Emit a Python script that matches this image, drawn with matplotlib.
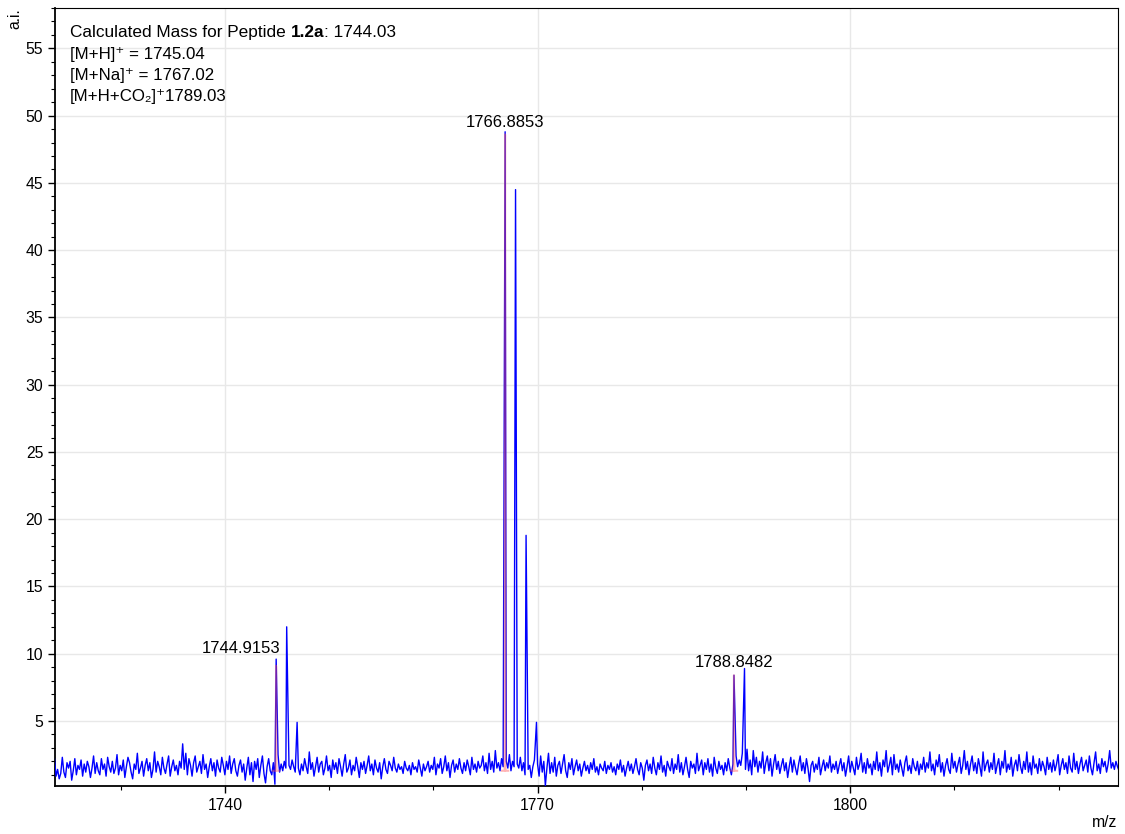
import numpy as np
import matplotlib.pyplot as plt
from matplotlib.ticker import MultipleLocator

plt.rcParams['font.family'] = ['Liberation Sans', 'DejaVu Sans']

# raw spectrum baseline, sampled every 0.15 m/z from 1723.5
noise_start = 1723.5
noise_step = 0.15
noise = [
    2.6, 2.2, 0.9, 1.4, 0.7, 1.1, 2.3, 1.2, 0.8, 1.9, 1.5, 2.0, 0.6, 1.3, 2.2, 1.0, 1.7, 1.4, 2.1, 0.9,
    1.8, 1.2, 2.0, 1.6, 0.8, 1.5, 2.4, 1.1, 1.9, 1.3, 1.0, 2.2, 1.4, 1.8, 0.9, 2.3, 1.6, 1.2, 2.0, 1.1,
    1.5, 2.5, 1.0, 1.7, 1.3, 2.1, 0.8, 1.6, 2.3, 1.9, 1.2, 0.7, 1.8, 1.4, 2.6, 1.1, 1.5, 2.0, 0.9, 1.7,
    2.2, 1.3, 1.9, 0.8, 1.4, 2.7, 1.2, 2.0, 1.6, 1.0, 2.3, 1.5, 1.1, 1.8, 2.4, 0.9, 1.6, 2.1, 1.3, 1.7,
    1.0, 2.0, 1.5, 3.3, 1.4, 2.6, 1.0, 2.2, 1.7, 0.9, 1.9, 2.4, 1.2, 1.6, 2.0, 1.1, 2.5, 1.4, 1.8, 0.8,
    1.6, 2.2, 1.3, 1.9, 0.9, 2.1, 1.5, 1.2, 2.3, 1.7, 1.0, 2.0, 1.4, 2.4, 1.1, 1.8, 2.2, 1.3, 0.9, 1.7,
    2.1, 1.2, 1.8, 0.6, 1.5, 2.3, 1.0, 1.9, 0.5, 2.0, 1.4, 2.2, 0.8, 1.7, 2.4, 1.1, 0.4, 1.6, 2.2, 1.3,
    1.0, 1.9, 0.3, 1.4, 2.5, 1.2, 1.8, 1.3, 2.0, 1.5, 1.1, 1.7, 1.4, 2.1, 1.6, 1.2, 2.4, 1.5, 1.0, 1.8,
    1.3, 2.2, 1.6, 1.1, 2.7, 1.4, 1.9, 0.9, 1.6, 2.3, 1.2, 1.8, 2.0, 1.0, 1.5, 2.4, 1.3, 1.7, 0.8, 2.1,
    1.4, 1.9, 1.1, 2.2, 1.6, 0.9, 1.8, 2.5, 1.2, 1.5, 2.1, 1.0, 1.7, 1.3, 2.3, 1.6, 0.8, 1.9, 1.4, 2.0,
    1.1, 1.7, 2.4, 1.3, 1.8, 1.0, 2.1, 1.5, 1.2, 1.9, 0.7, 1.6, 2.2, 1.4, 1.1, 2.0, 1.7, 1.3, 2.3, 1.5,
    1.2, 1.8, 1.4, 1.6, 1.1, 2.0, 1.5, 1.3, 1.7, 1.0, 1.9, 1.4, 1.6, 1.2, 2.1, 1.5, 0.9, 1.8, 1.3, 1.6,
    2.0, 1.2, 1.7, 1.4, 2.3, 1.0, 1.8, 1.5, 2.2, 1.1, 1.6, 2.4, 1.3, 1.9, 0.8, 1.7, 2.1, 1.2, 1.8, 1.4,
    2.2, 1.5, 1.1, 1.9, 1.3, 2.1, 1.6, 1.0, 2.3, 1.4, 1.8, 1.2, 2.0, 1.5, 1.7, 2.4, 1.3, 1.9, 1.1, 2.6,
    1.4, 2.0, 1.2, 2.8, 1.5, 1.9, 1.3, 2.2, 1.6, 1.1, 2.0, 1.5, 2.5, 1.3, 2.0, 1.6, 1.2, 1.8, 1.5, 2.3,
    1.3, 1.9, 1.0, 2.2, 1.4, 1.7, 0.8, 1.6, 2.1, 1.3, 1.8, 0.9, 2.4, 1.2, 2.0, 0.2, 1.5, 2.6, 1.1, 1.9,
    1.2, 2.3, 0.9, 1.7, 2.0, 1.1, 1.8, 2.5, 1.3, 0.8, 1.9, 1.4, 2.2, 1.0, 1.6, 2.1, 1.3, 1.8, 0.9, 1.5,
    2.0, 1.3, 1.7, 1.1, 1.9, 1.4, 2.2, 1.2, 1.6, 1.0, 1.8, 1.5, 1.3, 2.0, 1.1, 1.7, 1.4, 1.9, 1.2, 1.6,
    1.0, 1.8, 1.4, 2.1, 1.2, 1.7, 0.9, 1.5, 2.0, 1.3, 1.8, 1.1, 1.6, 2.2, 1.4, 1.0, 1.9, 1.5, 0.6, 1.7,
    2.1, 1.3, 1.8, 1.1, 2.3, 1.5, 1.0, 1.9, 1.4, 2.4, 1.2, 1.7, 0.9, 2.0, 1.6, 1.3, 2.2, 1.1, 1.8, 1.4,
    2.5, 1.2, 1.9, 1.0, 1.6, 2.3, 1.4, 0.8, 2.0, 1.5, 1.8, 1.1, 2.6, 1.3, 1.7, 2.1, 1.0, 1.9, 1.4, 2.2,
    1.2, 1.8, 0.9, 2.3, 1.5, 1.1, 2.0, 1.4, 1.7, 1.0, 1.9, 1.3, 2.2, 1.5, 1.0, 1.8, 1.3, 2.4, 1.6, 2.1,
    1.7, 2.6, 2.0, 1.4, 2.9, 1.3, 2.1, 1.0, 2.8, 1.6, 2.3, 1.2, 2.0, 1.5, 2.7, 1.1, 1.9, 2.4, 1.3, 2.2,
    0.9, 1.8, 2.5, 1.4, 2.0, 1.1, 1.7, 2.2, 1.3, 1.9, 0.8, 1.6, 2.3, 1.2, 2.1, 1.5, 1.0, 1.8, 2.4, 1.3,
    1.9, 1.1, 2.2, 1.5, 0.5, 1.7, 2.0, 1.2, 1.8, 1.4, 2.3, 1.0, 1.6, 2.1, 1.3, 1.9, 1.5, 2.4, 1.2, 1.8,
    1.4, 2.0, 1.1, 1.7, 2.2, 1.3, 1.9, 0.9, 1.6, 2.4, 1.2, 2.0, 1.5, 1.0, 2.3, 1.4, 1.8, 2.6, 1.2, 1.9,
    1.1, 2.2, 1.5, 1.8, 1.0, 2.0, 1.4, 2.7, 1.3, 1.9, 0.9, 2.1, 1.6, 2.8, 1.2, 1.7, 2.3, 1.0, 2.5, 1.4,
    1.8, 1.2, 2.1, 1.5, 0.9, 1.9, 2.4, 1.3, 1.7, 1.1, 2.2, 1.6, 1.3, 2.0, 1.0, 1.8, 1.4, 2.3, 1.2, 1.9,
    1.5, 2.7, 1.3, 1.8, 1.0, 2.1, 1.6, 2.5, 1.2, 1.9, 0.9, 1.7, 2.2, 1.4, 1.1, 2.6, 1.5, 2.0, 1.2, 1.8,
    2.3, 1.1, 1.7, 2.8, 1.4, 2.0, 1.0, 1.8, 2.4, 1.3, 1.9, 1.1, 2.2, 1.6, 0.9, 2.7, 1.3, 1.8, 2.1, 1.2,
    1.9, 1.4, 2.6, 1.1, 1.7, 2.2, 1.0, 2.0, 1.5, 2.8, 1.2, 1.8, 1.4, 2.3, 0.9, 1.7, 2.1, 1.3, 2.5, 1.6,
    1.1, 2.0, 1.4, 2.7, 1.2, 1.9, 1.0, 2.4, 1.5, 1.8, 1.1, 2.2, 1.3, 2.0, 1.6, 1.0, 2.3, 1.4, 1.9, 1.2,
    2.1, 1.3, 1.8, 2.5, 1.0, 1.7, 2.2, 1.4, 1.9, 1.1, 2.4, 1.5, 1.2, 2.6, 1.4, 2.0, 1.1, 1.8, 2.3, 1.3,
    1.7, 2.1, 1.2, 2.4, 1.5, 1.0, 1.9, 2.7, 1.3, 1.8, 1.1, 2.2, 1.6, 2.0, 1.2, 1.8, 2.8, 1.5, 1.9, 1.4,
    2.0, 1.6, 1.3, 1.9, 1.2, 2.2, 1.5, 1.8, 1.4, 2.0,
]

# isotope peaks in the raw trace
raw_peak_mz = [1744.92, 1745.93, 1746.93, 1766.89, 1767.89, 1768.90, 1769.90, 1788.85, 1789.86]
raw_peak_int = [9.6, 12.0, 4.9, 48.8, 44.5, 18.8, 4.9, 8.4, 8.9]

# picked (labelled) monoisotopic peaks
picked_mz = [1744.9153, 1766.8853, 1788.8482]
picked_int = [9.1, 48.6, 8.4]
picked_base = 1.3
label_y = [9.6, 48.8, 8.4]
label_offsets = [(-25, 2), (0, 1), (0, 4)]

# merge baseline and peaks into one trace
noise_mz = noise_start + noise_step * np.arange(len(noise))
noise_int = np.array(noise)
keep = np.min(np.abs(noise_mz[:, None] - np.array(raw_peak_mz)[None, :]), axis=1) > 0.07
trace_mz = np.concatenate([noise_mz[keep], raw_peak_mz])
trace_int = np.concatenate([noise_int[keep], raw_peak_int])
order = np.argsort(trace_mz)
trace_mz = trace_mz[order]
trace_int = trace_int[order]

fig = plt.figure(figsize=(11.25, 8.34), dpi=100)
ax = fig.add_axes([0.0489, 0.0576, 0.9449, 0.9328])

ax.plot(trace_mz, trace_int, color='#0000ff', lw=1.0, zorder=3)

# picked peaks as red sticks on top of the raw trace
for mz, h in zip(picked_mz, picked_int):
    ax.plot([mz - 0.3, mz - 0.04, mz, mz + 0.04, mz + 0.3],
            [picked_base, picked_base, h, picked_base, picked_base],
            color='#ff5050', alpha=0.42, lw=1.5, zorder=4)

for mz, y, off in zip(picked_mz, label_y, label_offsets):
    ax.annotate(f'{mz:.4f}', xy=(mz, y), xytext=off, textcoords='offset points',
                ha='center', va='bottom', fontsize=12, zorder=5)

ax.set_xlim(1723.7, 1825.7)
ax.set_ylim(0.17, 58.0)

ax.xaxis.set_major_locator(MultipleLocator(30))
ax.xaxis.set_minor_locator(MultipleLocator(10))
ax.yaxis.set_minor_locator(MultipleLocator(1))
ax.set_yticks([5, 10, 15, 20, 25, 30, 35, 40, 45, 50, 55])

ax.grid(True, which='major', color='#e8e8e8', lw=1.0, zorder=0)
ax.set_axisbelow(True)

ax.tick_params(which='major', length=5, width=1.0, labelsize=11.3, direction='out')
ax.tick_params(which='minor', length=3, width=0.8, direction='out')

for side in ['left', 'bottom']:
    ax.spines[side].set_linewidth(1.3)
for side in ['top', 'right']:
    ax.spines[side].set_linewidth(0.8)

fig.text(0.0133, 0.978, 'a.i.', rotation=90, ha='center', va='center', fontsize=11.3)
fig.text(0.982, 0.014, 'm/z', ha='center', va='center', fontsize=11.3)

# info block: first line has the compound number in bold
t0 = ax.text(0.0141, 0.9679, 'Calculated Mass for Peptide ', transform=ax.transAxes,
             ha='left', va='center', fontsize=12.4, zorder=5)
t1 = ax.annotate('1.2a', xy=(1, 0), xycoords=t0, ha='left', va='bottom',
                 fontsize=12.4, fontweight='bold', zorder=5)
ax.annotate(': 1744.03', xy=(1, 0), xycoords=t1, ha='left', va='bottom',
            fontsize=12.4, zorder=5)

info_lines = ['[M+H]⁺ = 1745.04', '[M+Na]⁺ = 1767.02', '[M+H+CO₂]⁺1789.03']
for i, line in enumerate(info_lines):
    ax.text(0.0141, 0.9679 - (i + 1) * 0.0271, line, transform=ax.transAxes,
            ha='left', va='center', fontsize=12.2, zorder=5)

fig.savefig('out.png', dpi=100)
